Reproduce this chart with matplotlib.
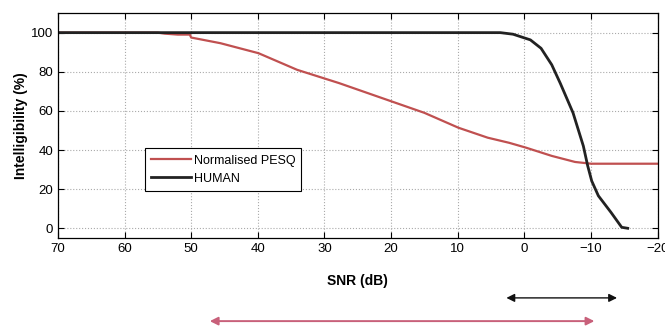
import numpy as np
import matplotlib.pyplot as plt
import matplotlib.transforms as mtransforms

plt.rcParams['font.family'] = ['Liberation Sans', 'DejaVu Sans']

# Normalised PESQ curve (SNR dB, intelligibility %)
pesq_snr = [70, 60, 55, 54, 52, 50.2, 50, 45.6, 39.9, 34.1, 27.8, 21.4, 15, 9.9,
            5.5, 2.3, -0.25, -4.1, -7.6, -10, -20]
pesq_val = [100, 100, 100, 99.5, 99, 99, 97.5, 94.6, 89.5, 81, 74.2, 66.6, 59, 51.4,
            46.3, 43.7, 41.2, 37, 33.9, 33, 33]

# Human listener curve
human_snr = [70, 50, 20, 3.6, 1.7, -0.9, -2.5, -4.1, -5.4, -7.3, -8.85, -9.5,
             -10.1, -11.1, -13, -14.6, -15.5]
human_val = [100, 100, 100, 100, 99.2, 96.3, 92, 83.6, 74, 59, 42, 31.9,
             24.2, 16.6, 8.1, 0.5, 0]

# range arrows under the axis (SNR dB)
human_range = (2.7, -13.9)
pesq_range = (47.2, -10.5)

fig = plt.figure(figsize=(6.65, 3.27), dpi=100)
ax = fig.add_axes([0.087, 0.272, 0.902, 0.688])

ax.plot(pesq_snr, pesq_val, color='#c05050', lw=1.6, label='Normalised PESQ')
ax.plot(human_snr, human_val, color='#222222', lw=2.0, label='HUMAN')

ax.set_xlim(70, -20)
ax.set_ylim(-5, 110)
ax.set_xticks(np.arange(70, -21, -10))
ax.set_xticklabels([str(v).replace('-', '\u2212') for v in range(70, -21, -10)])
ax.set_yticks(np.arange(0, 101, 20))
ax.grid(True, linestyle=':', color='#aaaaaa', lw=0.8)
ax.tick_params(direction='in', top=True, right=True, labelsize=9.5, length=4)
for s in ax.spines.values():
    s.set_linewidth(0.9)

ax.set_ylabel('Intelligibility (%)', fontsize=10, fontweight='bold', labelpad=2)
ax.set_xlabel('SNR (dB)', fontsize=10, fontweight='bold', labelpad=14)

leg = ax.legend(loc='lower left', bbox_to_anchor=(0.145, 0.209), fontsize=9,
                fancybox=False, framealpha=1, edgecolor='black',
                handlelength=3.2, handletextpad=0.2, borderpad=0.5,
                labelspacing=0.5, borderaxespad=0)
leg.get_frame().set_linewidth(0.8)

trans = mtransforms.blended_transform_factory(ax.transData, fig.transFigure)
ax.annotate('', xy=(human_range[1], 0.089), xytext=(human_range[0], 0.089),
            xycoords=trans, textcoords=trans, annotation_clip=False,
            arrowprops=dict(arrowstyle='<|-|>', color='#111111', lw=1.0,
                            mutation_scale=12, shrinkA=0, shrinkB=0))
ax.annotate('', xy=(pesq_range[1], 0.018), xytext=(pesq_range[0], 0.018),
            xycoords=trans, textcoords=trans, annotation_clip=False,
            arrowprops=dict(arrowstyle='<|-|>', color='#c8607a', lw=1.4,
                            mutation_scale=12, shrinkA=0, shrinkB=0))

fig.savefig('out.png', dpi=100)
